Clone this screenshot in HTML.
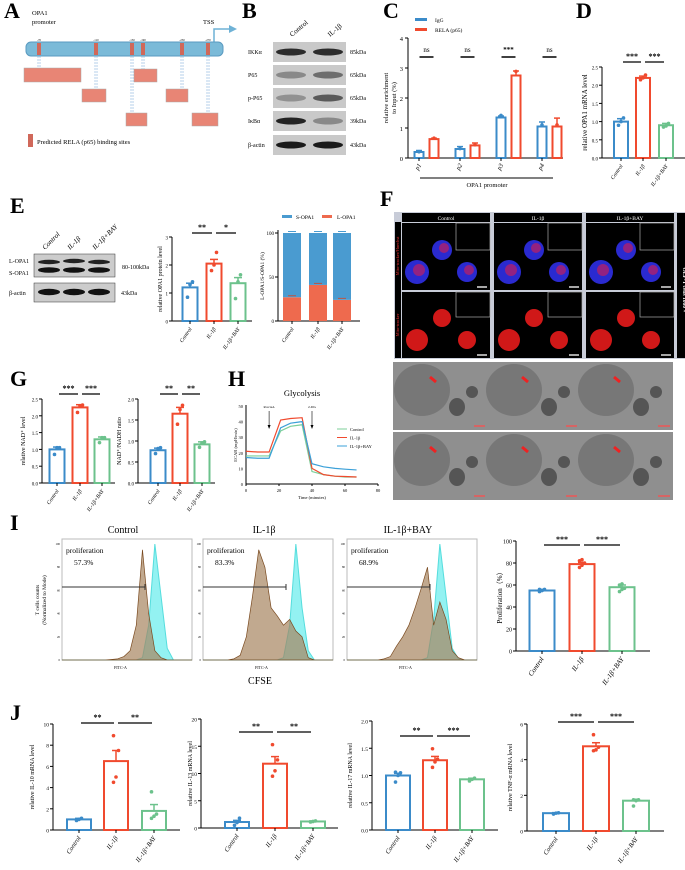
<!DOCTYPE html>
<html><head><meta charset="utf-8"><style>
body{margin:0;background:#fff;overflow:hidden;}
svg{display:block;font-family:"Liberation Serif",serif;}
</style></head><body>
<svg id="fig" width="685" height="870" viewBox="0 0 685 870" xmlns="http://www.w3.org/2000/svg"></svg>
<script>
// ---------- DATA ----------
const cPromoter=['p1','p2','p3','p4'];
const cIgG=[0.2,0.3,1.35,1.05];
const cIgGErr=[0.05,0.08,0.05,0.15];
const cRela=[0.63,0.42,2.75,1.05];
const cRelaErr=[0.03,0.08,0.15,0.28];
const cTicks=[0,1,2,3,4];
const groups3=['Control','IL-1β','IL-1β+BAY'];
const dVals=[1.0,2.2,0.9], dErr=[0.08,0.05,0.05], dPts=[[0.9,1.0,1.1],[2.15,2.2,2.28],[0.85,0.88,0.95]], dTicks=[0,0.5,1.0,1.5,2.0,2.5];
const eVals=[1.2,2.05,1.35], eErr=[0.15,0.15,0.2], ePts=[[0.85,1.3,1.4],[1.8,2.0,2.45],[0.8,1.4,1.65]], eTicks=[0,1,2,3];
const eL=[27,41,24], eS=[73,59,76], eStackTicks=[0,50,100];
const g1Vals=[1.0,2.25,1.3], g1Err=[0.07,0.08,0.07], g1Pts=[[0.85,1.05,1.05],[2.1,2.3,2.32],[1.2,1.35,1.35]], g1Ticks=[0,0.5,1.0,1.5,2.0,2.5];
const g2Vals=[0.78,1.65,0.92], g2Err=[0.05,0.15,0.06], g2Pts=[[0.7,0.82,0.84],[1.4,1.75,1.85],[0.85,0.95,0.98]], g2Ticks=[0,0.5,1.0,1.5,2.0];
const hTime=[0,7,14,21,27,34,40,47,54,60,67];
const hCtrl=[18,18,18,34,37,38,8,6,5,4.5,4.5];
const hIL=[21,20.5,20.5,41,42,42.5,10,6,5,4.8,4.5];
const hBAY=[17,16.5,16.5,36,39,40,13,11,10,9.5,9];
const hTicksX=[0,20,40,60,80], hTicksY=[0,10,20,30,40,50];
const iProlif=['57.3%','83.3%','68.9%'];
const iBrown=[[0,0,0,0,0,0,0,0,0.5,1,3,8,30,95,40,8,2,0,0,0,0,0],[0,0,0,0,0,1,4,20,55,95,80,45,38,30,35,25,20,2,0,0,0,0],[0,0,0,0,0,0,1,3,12,20,30,45,62,80,30,50,35,8,2,0,0,0]];
const iCyan=[[0,0,0,0,0,0,0,0,0,0,0,0,0,2,30,100,55,10,0,0,0,0],[0,0,0,0,0,0,0,0,0,0,0,0,0,2,30,100,45,8,0,0,0,0],[0,0,0,0,0,0,0,0,0,0,0,0,0,2,35,100,55,10,1,0,0,0]];
const iVals=[55,79,58], iErr=[1,1.5,2], iPts=[[54,55,56,56,55],[76,78,80,82,83],[54,56,57,60,61]], iTicks=[0,20,40,60,80,100];
const j1Vals=[1.0,6.5,1.8], j1Err=[0.1,1.0,0.6], j1Pts=[[0.9,1.0,1.1],[4.5,5.0,7.5,8.9],[1.1,1.3,1.5,3.6]], j1Ticks=[0,2,4,6,8,10];
const j2Vals=[1.1,11.8,1.2], j2Err=[0.3,1.3,0.1], j2Pts=[[0.5,1.0,1.8],[9.5,10.5,12.5,15.3],[1.1,1.2,1.3]], j2Ticks=[0,5,10,15,20];
const j3Vals=[1.0,1.28,0.93], j3Err=[0.04,0.07,0.02], j3Pts=[[0.88,1.0,1.05,1.06],[1.15,1.25,1.3,1.49],[0.9,0.93,0.95]], j3Ticks=[0,0.5,1.0,1.5,2.0];
const j4Vals=[1.0,4.75,1.7], j4Err=[0.03,0.2,0.08], j4Pts=[[0.95,1.0,1.02],[4.5,4.55,4.7,5.4],[1.4,1.7,1.75,1.75]], j4Ticks=[0,2,4,6];
const COLS=['#3b8bc9','#f04a2e','#6cc28c'];

// ---------- HELPERS ----------
const NS='http://www.w3.org/2000/svg';
const svg=document.getElementById('fig');
function el(tag,attrs,parent,text){const e=document.createElementNS(NS,tag);for(const k in attrs)e.setAttribute(k,attrs[k]);if(text!==undefined)e.textContent=text;(parent||svg).appendChild(e);return e;}
function grp(name){const g=el('g',{},svg);


return g;}
function label(t,x,y){const e=el('text',{x:x,y:y,'font-size':22,'font-weight':'bold'},svg,t);

}

function barChart(name,o){
  const g=grp(name);
  const sy=v=>o.yBot-(v/o.max)*(o.yBot-o.yTop);
  el('line',{x1:o.ax,y1:o.yTop,x2:o.ax,y2:o.yBot,stroke:'#000','stroke-width':1},g);
  el('line',{x1:o.ax,y1:o.yBot,x2:o.xEnd,y2:o.yBot,stroke:'#000','stroke-width':1},g);
  o.ticks.forEach(t=>{el('line',{x1:o.ax-3,y1:sy(t),x2:o.ax,y2:sy(t),stroke:'#000'},g);
    el('text',{x:o.ax-4,y:sy(t)+2.5,'font-size':o.tfs||7,'text-anchor':'end'},g,o.tfmt?o.tfmt(t):t);});
  o.vals.forEach((v,i)=>{
    const cx=o.centers[i],c=o.cols[i];
    const b=el('rect',{x:cx-o.bw/2,y:sy(v),width:o.bw,height:o.yBot-sy(v),fill:'#fff',stroke:c,'stroke-width':2},g);
    
    
    const ey=sy(v+o.errs[i]);
    el('line',{x1:cx,y1:sy(v),x2:cx,y2:ey,stroke:c,'stroke-width':1.5},g);
    el('line',{x1:cx-4,y1:ey,x2:cx+4,y2:ey,stroke:c,'stroke-width':1.5},g);
    (o.pts[i]||[]).forEach((p,k)=>el('circle',{cx:cx+((k%3)-1)*2.5,cy:sy(p),r:1.8,fill:c},g));
    if(o.cats){el('line',{x1:cx,y1:o.yBot,x2:cx,y2:o.yBot+3,stroke:'#000'},g);
      el('text',{x:cx+2,y:o.yBot+8,'font-size':o.cfs||7,'font-style':'italic','text-anchor':'end',transform:`rotate(-55 ${cx+2} ${o.yBot+8})`},g,o.cats[i]);}
  });
  if(o.ylab){const yx=o.ax-(o.ylabOff||22),yy=(o.yTop+o.yBot)/2;
    el('text',{x:yx,y:yy,'font-size':o.yfs||7,'text-anchor':'middle',transform:`rotate(-90 ${yx} ${yy})`},g,o.ylab);}
  (o.sig||[]).forEach(s=>{const x1=o.centers[s[0]]+2,x2=o.centers[s[1]]-2;
    el('line',{x1:x1,y1:s[3],x2:x2,y2:s[3],stroke:'#000','stroke-width':1.3},g);
    el('text',{x:(x1+x2)/2,y:s[3]-3,'font-size':8,'font-weight':'bold','text-anchor':'middle'},g,s[2]);});
  return sy;
}

// ---------- PANEL A ----------
label('A',4,18);
(function(){const g=grp('panel-a-promoter');
el('text',{x:32,y:15,'font-size':6.5},g,'OPA1');
el('text',{x:32,y:24,'font-size':6.5},g,'promoter');
el('text',{x:203,y:24,'font-size':6.5},g,'TSS');
el('path',{d:'M214 43 V29 H230',stroke:'#6fb2d6',fill:'none','stroke-width':1.5},g);
el('path',{d:'M229 25 L237 29 L229 33Z',fill:'#6fb2d6'},g);
el('rect',{x:26,y:42,width:197,height:14,rx:5,fill:'#7bbad8',stroke:'#5a9ac0'},g);
const sites=[39,96,132,143,182,208], bx=[[24,68,57,14],[82,89,24,13],[126,113,21,13],[134,69,23,13],[166,89,22,13],[192,113,26,13]];
sites.forEach((s,i)=>{el('rect',{x:s-2,y:43,width:4,height:12,fill:'#d0685a'},g);
 el('text',{x:s,y:41,'font-size':3,'text-anchor':'middle'},g,'-'+(i*40+70));
 const b=bx[i]; el('line',{x1:s-1,y1:56,x2:s-1,y2:b[1],stroke:'#6fa0d6','stroke-dasharray':'2,1','stroke-width':0.5},g);
 el('line',{x1:s+1,y1:56,x2:s+1,y2:b[1],stroke:'#6fa0d6','stroke-dasharray':'2,1','stroke-width':0.5},g);
 el('rect',{x:b[0],y:b[1],width:b[2],height:b[3],fill:'#e88575',stroke:'#aaa','stroke-width':0.5},g);});
el('rect',{x:28,y:134,width:5,height:13,fill:'#d0685a'},g);
el('text',{x:37,y:144,'font-size':6.5},g,'Predicted RELA (p65) binding sites');
})();

// ---------- PANEL B ----------
label('B',242,18);
(function(){const g=grp('panel-b-western');
el('text',{x:292,y:37,'font-size':7,transform:'rotate(-40 292 37)'},g,'Control');
el('text',{x:330,y:37,'font-size':7,transform:'rotate(-40 330 37)'},g,'IL-1β');
const rows=['IKKα','P65','p-P65','IκBα','β-actin'],kd=['85kDa','65kDa','65kDa','39kDa','43kDa'],ys=[42,65,88,111,135];
const dk=[[0.85,0.85],[0.35,0.5],[0.3,0.6],[0.9,0.35],[0.95,0.95]];
rows.forEach((r,i)=>{el('rect',{x:273,y:ys[i],width:73,height:20,fill:'#c9c9c9'},g);
 el('text',{x:248,y:ys[i]+12,'font-size':6},g,r);el('text',{x:350,y:ys[i]+12,'font-size':6},g,kd[i]);
 [291,328].forEach((cx,k)=>el('ellipse',{cx:cx,cy:ys[i]+10,rx:15,ry:3.5,fill:'#111','fill-opacity':dk[i][k]},g));});
})();

// ---------- PANEL C ----------
label('C',383,18);
(function(){const g=grp('panel-c-chip');
const sy=v=>158-v/4*(158-38);
el('line',{x1:408,y1:38,x2:408,y2:158,stroke:'#000'},g);el('line',{x1:408,y1:158,x2:563,y2:158,stroke:'#000'},g);
cTicks.forEach(t=>{el('line',{x1:405,y1:sy(t),x2:408,y2:sy(t),stroke:'#000'},g);el('text',{x:403,y:sy(t)+3,'font-size':6.5,'text-anchor':'end'},g,t);});
el('text',{x:388,y:98,'font-size':6.5,'text-anchor':'middle',transform:'rotate(-90 388 98)'},g,'relative enrichment');
el('text',{x:396,y:98,'font-size':6.5,'text-anchor':'middle',transform:'rotate(-90 396 98)'},g,'to Input (%)');
el('rect',{x:415,y:18,width:12,height:3,fill:COLS[0]},g);el('text',{x:435,y:22,'font-size':5.5},g,'IgG');
el('rect',{x:415,y:28,width:12,height:3,fill:COLS[1]},g);el('text',{x:435,y:32,'font-size':5.5},g,'RELA (p65)');
const gc=[426.5,467.5,508.5,549.5],sig=['ns','ns','***','ns'];
cPromoter.forEach((p,i)=>{
 [[cIgG,cIgGErr,-7.5,0],[cRela,cRelaErr,7.5,1]].forEach(s=>{const v=s[0][i],e=s[1][i],cx=gc[i]+s[2],c=COLS[s[3]];
  const b=el('rect',{x:cx-4.5,y:sy(v),width:9,height:158-sy(v),fill:'#fff',stroke:c,'stroke-width':2},g);
  
  
  el('line',{x1:cx,y1:sy(v),x2:cx,y2:sy(v+e),stroke:c,'stroke-width':1.5},g);el('line',{x1:cx-3,y1:sy(v+e),x2:cx+3,y2:sy(v+e),stroke:c,'stroke-width':1.5},g);
  el('circle',{cx:cx,cy:sy(v*1.05),r:1.8,fill:c},g);});
 el('line',{x1:gc[i]-7,y1:57,x2:gc[i]+7,y2:57,stroke:'#000','stroke-width':1.5},g);
 el('text',{x:gc[i],y:52,'font-size':7,'text-anchor':'middle','font-weight':sig[i]=='ns'?'normal':'bold'},g,sig[i]);
 el('line',{x1:gc[i]-7.5,y1:158,x2:gc[i]-7.5,y2:161,stroke:'#000'},g);
 el('text',{x:gc[i]-5,y:165,'font-size':6.5,'font-style':'italic','text-anchor':'end',transform:`rotate(-60 ${gc[i]-5} 165)`},g,p);});
el('line',{x1:420,y1:178,x2:553,y2:178,stroke:'#000'},g);
el('text',{x:487,y:187,'font-size':6.5,'text-anchor':'middle'},g,'OPA1 promoter');
})();

// ---------- PANEL D ----------
label('D',576,18);
barChart('panel-d-opa1-mrna',{ax:602,xEnd:685,yTop:67,yBot:158,max:2.5,ticks:dTicks,tfmt:t=>t.toFixed(1),centers:[621,643,666],bw:14,vals:dVals,errs:dErr,pts:dPts,cols:COLS,cats:groups3,ylab:'relative OPA1 mRNA level',ylabOff:15,tfs:5,cfs:5.5,sig:[[0,1,'***',62],[1,2,'***',62]]});

// ---------- PANEL E ----------
label('E',10,213);
(function(){const g=grp('panel-e-western');
['Control','IL-1β','IL-1β+BAY'].forEach((t,i)=>{const x=45+i*25;el('text',{x:x,y:250,'font-size':7,'font-style':'italic',transform:`rotate(-45 ${x} 250)`},g,t);});
el('rect',{x:34,y:254,width:81,height:23,fill:'#ccc',stroke:'#333','stroke-width':0.5},g);
el('rect',{x:34,y:283,width:81,height:19,fill:'#ccc',stroke:'#333','stroke-width':0.5},g);
[49,74,99].forEach((cx,i)=>{el('ellipse',{cx:cx,cy:262-(i==1?1:0),rx:11,ry:2.2,fill:'#222'},g);el('ellipse',{cx:cx,cy:270,rx:11,ry:2.8,fill:'#111'},g);el('ellipse',{cx:cx,cy:292,rx:11,ry:3.2,fill:'#111'},g);});
el('text',{x:9,y:263,'font-size':6},g,'L-OPA1');el('text',{x:9,y:275,'font-size':6},g,'S-OPA1');el('text',{x:9,y:295,'font-size':6},g,'β-actin');
el('text',{x:122,y:269,'font-size':6},g,'80-100kDa');el('text',{x:121,y:295,'font-size':6},g,'43kDa');
})();
barChart('panel-e-opa1-protein',{ax:172,xEnd:252,yTop:237,yBot:321,max:3,ticks:eTicks,centers:[190,214,238],bw:15,vals:eVals,errs:eErr,pts:ePts,cols:COLS,cats:groups3,ylab:'relative OPA1 protein level',ylabOff:10,yfs:6,tfs:5,cfs:5.5,sig:[[0,1,'**',233],[1,2,'*',233]]});
(function(){const g=grp('panel-e-stacked');
const sy=v=>321-v/100*(321-233);
el('line',{x1:278,y1:230,x2:278,y2:321,stroke:'#000'},g);el('line',{x1:278,y1:321,x2:360,y2:321,stroke:'#000'},g);
eStackTicks.forEach(t=>{el('line',{x1:275,y1:sy(t),x2:278,y2:sy(t),stroke:'#000'},g);el('text',{x:274,y:sy(t)+2,'font-size':5,'text-anchor':'end'},g,t);});
el('text',{x:264,y:276,'font-size':5.5,'text-anchor':'middle',transform:'rotate(-90 264 276)'},g,'L-OPA1/S-OPA1 (%)');
el('rect',{x:282,y:215,width:10,height:3,fill:'#4a9bd0'},g);el('text',{x:296,y:219,'font-size':5.5},g,'S-OPA1');
el('rect',{x:322,y:215,width:10,height:3,fill:'#ee6a4e'},g);el('text',{x:337,y:219,'font-size':5.5},g,'L-OPA1');
[292,318,342].forEach((cx,i)=>{el('rect',{x:cx-9,y:sy(eL[i]),width:18,height:321-sy(eL[i]),fill:'#ee6a4e'},g);
 el('rect',{x:cx-9,y:sy(eL[i]+eS[i]),width:18,height:sy(eL[i])-sy(eL[i]+eS[i]),fill:'#4a9bd0'},g);
 el('line',{x1:cx-4,y1:sy(100)-1.5,x2:cx+4,y2:sy(100)-1.5,stroke:'#4a9bd0'},g);
 el('line',{x1:cx-4,y1:sy(eL[i])-1.5,x2:cx+4,y2:sy(eL[i])-1.5,stroke:'#b54'},g);
 el('line',{x1:cx,y1:321,x2:cx,y2:324,stroke:'#000'},g);
 el('text',{x:cx+2,y:329,'font-size':5.5,'font-style':'italic','text-anchor':'end',transform:`rotate(-55 ${cx+2} 329)`},g,groups3[i]);});
})();

// ---------- PANEL F ----------
label('F',380,206);
(function(){const g=grp('panel-f-images');
const xs=[402,494,586];
el('rect',{x:394,y:212,width:291,height:147,fill:'#c8ccd8'},g);
el('rect',{x:395,y:222,width:6,height:136,fill:'#000'},g);el('rect',{x:677,y:213,width:8,height:145,fill:'#000'},g);
el('text',{x:399,y:256,'font-size':4.5,fill:'#e33','text-anchor':'middle',transform:'rotate(-90 399 256)'},g,'Mito-tracker/Hoechst');
el('text',{x:399,y:325,'font-size':4.5,fill:'#e33','text-anchor':'middle',transform:'rotate(-90 399 325)'},g,'Mito-tracker');
el('text',{x:683,y:290,'font-size':5.5,fill:'#fff','font-weight':'bold','text-anchor':'middle',transform:'rotate(90 683 290)'},g,'OLP-T cells 1000 ×');
['Control','IL-1β','IL-1β+BAY'].forEach((t,i)=>{const x=xs[i];
 el('rect',{x:x,y:213,width:88,height:9,fill:'#000'},g);
 el('rect',{x:x,y:223,width:88,height:67,fill:'#000'},g);el('rect',{x:x,y:292,width:88,height:66,fill:'#000'},g);
 el('text',{x:x+44,y:220,'font-size':5.5,fill:'#fff','text-anchor':'middle'},g,t);
 el('rect',{x:x+54,y:223,width:34,height:27,fill:'#000',stroke:'#aaa','stroke-width':0.7},g);
 el('rect',{x:x+54,y:292,width:34,height:25,fill:'#000',stroke:'#aaa','stroke-width':0.7},g);
 [[15,272,12],[40,250,10],[65,272,10]].forEach(c=>{el('circle',{cx:x+c[0],cy:c[1],r:c[2],fill:'#2a2ad0'},g);el('circle',{cx:x+c[0]+2,cy:c[1]-2,r:c[2]*0.5,fill:'#c02060','fill-opacity':0.7},g);});
 [[15,340,11],[40,318,9],[65,340,9]].forEach(c=>el('circle',{cx:x+c[0],cy:c[1],r:c[2],fill:'#d01818'},g));
 el('line',{x1:x+75,y1:355,x2:x+85,y2:355,stroke:'#ddd','stroke-width':1.5},g);
 el('line',{x1:x+75,y1:287,x2:x+85,y2:287,stroke:'#ddd','stroke-width':1.5},g);
 [362,432].forEach((y,r)=>{el('rect',{x:x-9,y:y,width:96,height:68,fill:'#8f8f8f'},g);
  el('ellipse',{cx:x+20,cy:y+28,rx:28,ry:26,fill:'#777'},g);
  el('ellipse',{cx:x+55,cy:y+45,rx:8,ry:9,fill:'#555'},g);el('ellipse',{cx:x+70,cy:y+30,rx:6,ry:6,fill:'#555'},g);
  el('path',{d:`M${x+28} ${y+15} l6 5`,stroke:'#e22','stroke-width':3},g);
  el('line',{x1:x+72,y1:y+64,x2:x+84,y2:y+64,stroke:'#e55','stroke-width':1.5},g);});
});
})();

// ---------- PANEL G ----------
label('G',10,386);
barChart('panel-g-nad',{ax:42,xEnd:115,yTop:399,yBot:483,max:2.5,ticks:g1Ticks,tfmt:t=>t.toFixed(1),centers:[57,80,102],bw:15,vals:g1Vals,errs:g1Err,pts:g1Pts,cols:COLS,cats:groups3,ylab:'relative NAD⁺ level',ylabOff:17,yfs:6,tfs:5,cfs:5.5,sig:[[0,1,'***',394],[1,2,'***',394]]});
barChart('panel-g-nad-ratio',{ax:138,xEnd:215,yTop:399,yBot:483,max:2.0,ticks:g2Ticks,tfmt:t=>t.toFixed(1),centers:[158,180,202],bw:15,vals:g2Vals,errs:g2Err,pts:g2Pts,cols:COLS,cats:groups3,ylab:'NAD⁺/NADH ratio',ylabOff:17,yfs:6,tfs:5,cfs:5.5,sig:[[0,1,'**',394],[1,2,'**',394]]});

// ---------- PANEL H ----------
label('H',228,386);
(function(){const g=grp('panel-h-glycolysis');
const sx=t=>246+t/80*(378-246), sy=v=>484-v/50*(484-406);
el('text',{x:302,y:396,'font-size':8.5,'text-anchor':'middle'},g,'Glycolysis');
el('line',{x1:246,y1:405,x2:246,y2:484,stroke:'#000'},g);el('line',{x1:246,y1:484,x2:378,y2:484,stroke:'#000'},g);
hTicksX.forEach(t=>{el('line',{x1:sx(t),y1:484,x2:sx(t),y2:486,stroke:'#000'},g);el('text',{x:sx(t),y:492,'font-size':4.5,'text-anchor':'middle'},g,t);});
hTicksY.forEach(t=>el('text',{x:243,y:sy(t)+2,'font-size':4.5,'text-anchor':'end'},g,t));
el('text',{x:312,y:499,'font-size':4.5,'text-anchor':'middle'},g,'Time (minutes)');
el('text',{x:237,y:445,'font-size':4.5,'text-anchor':'middle',transform:'rotate(-90 237 445)'},g,'ECAR (mpH/min)');
[[14,'Rot/AA'],[40,'2-DG']].forEach(a=>{el('text',{x:sx(a[0]),y:408,'font-size':3.5,'text-anchor':'middle'},g,a[1]);
 el('line',{x1:sx(a[0]),y1:411,x2:sx(a[0]),y2:427,stroke:'#000','stroke-width':0.6},g);el('path',{d:`M${sx(a[0])-1.5} 425 L${sx(a[0])} 429 L${sx(a[0])+1.5} 425Z`},g);});
[[hCtrl,'#7ccf9a','Control'],[hIL,'#f04a2e','IL-1β'],[hBAY,'#3ba0d8','IL-1β+BAY']].forEach((s,k)=>{
 const p=el('polyline',{points:hTime.map((t,i)=>sx(t)+','+sy(s[0][i])).join(' '),fill:'none',stroke:s[1],'stroke-width':1.2},g);
 
 
 el('line',{x1:337,y1:429+k*8.5,x2:347,y2:429+k*8.5,stroke:s[1]},g);el('text',{x:350,y:431+k*8.5,'font-size':4.5},g,s[2]);});
})();

// ---------- PANEL I ----------
label('I',10,530);
(function(){const g=grp('panel-i-flow');
const xs=[62,203,347],titles=['Control','IL-1β','IL-1β+BAY'];
el('text',{x:39,y:600,'font-size':5.5,'text-anchor':'middle',transform:'rotate(-90 39 600)'},g,'T cells counts');
el('text',{x:46,y:600,'font-size':5.5,'text-anchor':'middle',transform:'rotate(-90 46 600)'},g,'(Normalized to Mode)');
el('text',{x:260,y:731-47,'font-size':10,'text-anchor':'middle'},g,'CFSE');
xs.forEach((x,p)=>{const w=130,top=539,bot=660;
 el('text',{x:x+61,y:533,'font-size':10,'text-anchor':'middle'},g,titles[p]);
 el('rect',{x:x,y:top,width:w,height:bot-top,fill:'#fff',stroke:'#bbb'},g);
 [0,20,40,60,80,100].forEach(t=>el('text',{x:x-2,y:bot-t/100*(bot-top-5)+1,'font-size':3,'text-anchor':'end'},g,t));
 const sx=i=>x+i*w/21, sy=v=>bot-v/100*(bot-top-5);
 const path=arr=>'M'+sx(0)+' '+bot+' '+arr.map((v,i)=>'L'+sx(i)+' '+sy(v)).join(' ')+' L'+sx(21)+' '+bot+'Z';
 el('path',{d:path(iCyan[p]),fill:'#80f0f0','fill-opacity':0.85,stroke:'#5dd'},g);
 el('path',{d:path(iBrown[p]),fill:'#a68460','fill-opacity':0.7,stroke:'#7a4a20','stroke-width':0.7},g);
 el('text',{x:x+4,y:553,'font-size':7.5},g,'proliferation');el('text',{x:x+12,y:565,'font-size':7.5},g,iProlif[p]);
 el('line',{x1:x,y1:587,x2:x+83,y2:587,stroke:'#333'},g);el('line',{x1:x+83,y1:584,x2:x+83,y2:590,stroke:'#333'},g);
 el('text',{x:x+52,y:669,'font-size':4},g,'FITC-A');});
})();
barChart('panel-i-proliferation',{ax:516,xEnd:650,yTop:541,yBot:651,max:100,ticks:iTicks,centers:[542,582,622],bw:25,vals:iVals,errs:iErr,pts:iPts,cols:COLS,cats:groups3,ylab:'Proliferation（%）',ylabOff:14,tfs:6,cfs:7,sig:[[0,1,'***',545],[1,2,'***',545]]});

// ---------- PANEL J ----------
label('J',10,720);
barChart('panel-j-il10',{ax:53,xEnd:180,yTop:724,yBot:830,max:10,ticks:j1Ticks,centers:[79,116,154],bw:24,vals:j1Vals,errs:j1Err,pts:j1Pts,cols:COLS,cats:groups3,ylab:'relative IL-10 mRNA level',ylabOff:19,yfs:6,tfs:5.5,cfs:6.5,sig:[[0,1,'**',723],[1,2,'**',723]]});
barChart('panel-j-il13',{ax:201,xEnd:338,yTop:719,yBot:828,max:20,ticks:j2Ticks,centers:[237,275,313],bw:24,vals:j2Vals,errs:j2Err,pts:j2Pts,cols:COLS,cats:groups3,ylab:'relative IL-13 mRNA level',ylabOff:9,yfs:6,tfs:5.5,cfs:6.5,sig:[[0,1,'**',732],[1,2,'**',732]]});
barChart('panel-j-il17',{ax:372,xEnd:498,yTop:721,yBot:830,max:2.0,ticks:j3Ticks,tfmt:t=>t.toFixed(1),centers:[398,435,472],bw:24,vals:j3Vals,errs:j3Err,pts:j3Pts,cols:COLS,cats:groups3,ylab:'relative IL-17 mRNA level',ylabOff:20,yfs:6,tfs:5.5,cfs:6.5,sig:[[0,1,'**',736],[1,2,'***',736]]});
barChart('panel-j-tnfa',{ax:527,xEnd:664,yTop:724,yBot:831,max:6,ticks:j4Ticks,centers:[556,596,636],bw:26,vals:j4Vals,errs:j4Err,pts:j4Pts,cols:COLS,cats:groups3,ylab:'relative TNF-α mRNA level',ylabOff:15,yfs:6,tfs:5.5,cfs:6.5,sig:[[0,1,'***',722],[1,2,'***',722]]});
</script>
</body></html>
